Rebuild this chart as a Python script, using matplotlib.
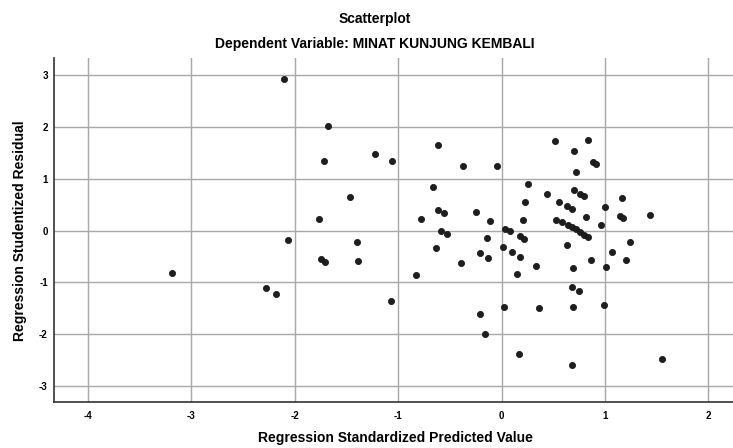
import numpy as np
import matplotlib.pyplot as plt

plt.rcParams.update({
    "font.family": ["Liberation Sans", "DejaVu Sans"],
    "axes.unicode_minus": False,
})

# predicted (standardized) vs studentized residual
pred = [
    -2.10, -1.68, -1.72, -1.22, -1.06, -1.47, -1.77, -2.07, -1.40, -3.19,
    -2.28, -2.18, -1.75, -1.71, -1.39, -1.07,
    -0.61, -0.37, -0.04, 0.52, 0.84, 0.70, 0.89, 0.91, 0.72, -0.66,
    0.26, 0.44, 0.70, 0.76, 0.80, 1.17, 0.23, 0.56, 0.63, 0.68,
    1.00, -0.61, -0.56, -0.25, -0.78, -0.11, 0.21, 0.53, 0.59, 0.82,
    1.15, 1.18, 1.44, 0.96, 0.64, 0.68, 0.72, 0.76, 0.80, 0.84,
    -0.59, -0.53, 0.03, 0.08, 0.18, 0.22, -0.14, 1.24, -0.63, 0.01,
    0.63,
    -0.83, -0.39, -0.21, -0.13, 0.10, 0.18, 0.15, 0.33, 0.69, 0.87,
    1.07, 1.01, 1.20, 0.68, 0.75, -0.21, 0.02, 0.36, 0.69, 0.99,
    -0.16, 0.17, 0.68, 1.55,
]
resid = [
    2.93, 2.03, 1.35, 1.48, 1.35, 0.64, 0.23, -0.19, -0.23, -0.82,
    -1.11, -1.22, -0.55, -0.61, -0.59, -1.36,
    1.66, 1.25, 1.25, 1.74, 1.75, 1.53, 1.32, 1.28, 1.13, 0.84,
    0.90, 0.70, 0.79, 0.70, 0.67, 0.62, 0.56, 0.56, 0.47, 0.41,
    0.45, 0.39, 0.34, 0.36, 0.22, 0.19, 0.21, 0.21, 0.16, 0.27,
    0.29, 0.24, 0.30, 0.10, 0.11, 0.06, 0.02, -0.03, -0.08, -0.13,
    -0.01, -0.06, 0.03, -0.01, -0.10, -0.16, -0.15, -0.23, -0.33, -0.31,
    -0.28,
    -0.86, -0.62, -0.44, -0.53, -0.42, -0.51, -0.84, -0.69, -0.73, -0.56,
    -0.41, -0.71, -0.56, -1.09, -1.17, -1.61, -1.48, -1.50, -1.48, -1.44,
    -2.00, -2.38, -2.60, -2.49,
]

x_ticks = [-4, -3, -2, -1, 0, 1, 2]
y_ticks = [-3, -2, -1, 0, 1, 2, 3]

fig = plt.figure(figsize=(7.33, 4.48), dpi=100)
ax = fig.add_axes([0.0737, 0.102, 0.9263, 0.768])

ax.scatter(pred, resid, s=20, color="#1e1e1e", edgecolors="#111111",
           linewidths=0.5, zorder=3)

ax.set_xlim(-4.33, 2.24)
ax.set_ylim(-3.32, 3.33)
ax.set_xticks(x_ticks)
ax.set_yticks(y_ticks)
ax.set_xticklabels([str(t) for t in x_ticks], fontsize=7, fontweight="bold")
ax.set_yticklabels([str(t) for t in y_ticks], fontsize=7, fontweight="bold")
ax.tick_params(axis="x", length=0, pad=6)
ax.tick_params(axis="y", length=0, pad=4.5)

ax.grid(True, color="#a8a8a8", linewidth=1.0)
ax.set_axisbelow(True)
for side in ["top", "right"]:
    ax.spines[side].set_visible(False)
for side in ["left", "bottom"]:
    ax.spines[side].set_color("#333333")
    ax.spines[side].set_linewidth(1.2)

ax.set_xlabel("Regression Standardized Predicted Value", fontsize=10,
              fontweight="bold", va="center")
ax.xaxis.set_label_coords((395 - 54) / 679, (402.3 - 438) / 344)
ax.set_ylabel("Regression Studentized Residual", fontsize=10,
              fontweight="bold", va="center")
ax.yaxis.set_label_coords((20 - 54) / 679, 0.5)

fig.text(375 / 733, 0.958, "Scatterplot", ha="center", va="center",
         fontsize=10, fontweight="bold")
fig.text(375 / 733, 0.902, "Dependent Variable: MINAT KUNJUNG KEMBALI",
         ha="center", va="center", fontsize=10, fontweight="bold")

fig.savefig("out.png", dpi=100)
